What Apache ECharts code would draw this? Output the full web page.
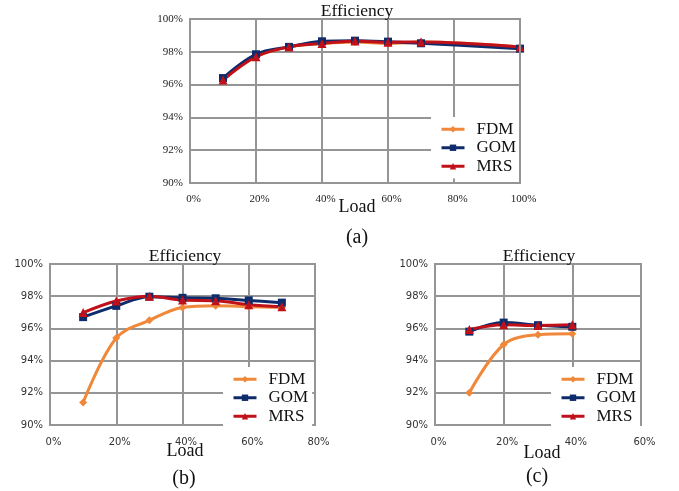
<!DOCTYPE html>
<html><head><meta charset="utf-8">
<script src="https://cdn.jsdelivr.net/npm/echarts@6/dist/echarts.min.js"></script>
<style>html,body{margin:0;padding:0;background:#fff}#c{width:679px;height:491px}</style>
</head><body><div id="c"></div>
<script>
// ---- data ----
const seriesNames = ['FDM', 'GOM', 'MRS'];
const loadA = [10, 20, 30, 40, 50, 60, 70, 100];
const fdmA = [96.3, 97.7, 98.3, 98.5, 98.6, 98.5, 98.6, 98.3];
const gomA = [96.4, 97.85, 98.3, 98.64, 98.68, 98.62, 98.52, 98.19];
const mrsA = [96.28, 97.7, 98.3, 98.5, 98.66, 98.58, 98.6, 98.3];
const loadB = [10, 20, 30, 40, 50, 60, 70];
const fdmB = [91.4, 95.4, 96.5, 97.3, 97.4, 97.35, 97.3];
const gomB = [96.7, 97.4, 97.97, 97.9, 97.87, 97.74, 97.6];
const mrsB = [96.98, 97.7, 98.0, 97.76, 97.72, 97.47, 97.35];
const loadC = [10, 20, 30, 40];
const fdmC = [92.0, 95.0, 95.6, 95.66];
const gomC = [95.8, 96.36, 96.2, 96.1];
const mrsC = [95.93, 96.22, 96.18, 96.22];
const xMaxA = 100, xMaxB = 80, xMaxC = 60;
const yMin = 90, yMax = 100, yStep = 2, xStep = 20;
const panelTitle = 'Efficiency', axisTitle = 'Load';
const panelLabels = ['(a)', '(b)', '(c)'];

// ---- styles ----
const colors = { FDM: '#F0883A', GOM: '#0E2C6B', MRS: '#C0111B' };
const symbols = { FDM: 'diamond', GOM: 'rect', MRS: 'triangle' };
const symSize = { FDM: 8, GOM: 8, MRS: 9 };
const serif = 'Liberation Serif';
const sans = 'DejaVu Sans';
const gridColor = '#959595';

const grids = [
  { left: 190, top: 19, width: 330, height: 164 },
  { left: 50, top: 264, width: 265, height: 161 },
  { left: 435, top: 264, width: 206, height: 161 }
].map(g => Object.assign(g, { show: true, borderColor: gridColor, borderWidth: 2, backgroundColor: '#fff' }));

const xMaxes = [xMaxA, xMaxB, xMaxC];
const labelFonts = [
  { fontFamily: serif, fontSize: 11, color: '#222' },
  { fontFamily: sans, fontSize: 10, color: '#333' },
  { fontFamily: sans, fontSize: 10, color: '#333' }
];

const xAxes = xMaxes.map((mx, i) => ({
  type: 'value', gridIndex: i, min: 0, max: mx, interval: xStep,
  axisLine: { show: false }, axisTick: { show: false },
  splitLine: { show: true, lineStyle: { color: gridColor, width: 2 } },
  axisLabel: Object.assign({ formatter: v => v + '%', margin: i === 0 ? 11 : 12, padding: [0, 0, 0, 7] }, labelFonts[i])
}));
const yAxes = xMaxes.map((mx, i) => ({
  type: 'value', gridIndex: i, min: yMin, max: yMax, interval: yStep,
  axisLine: { show: false }, axisTick: { show: false },
  splitLine: { show: true, lineStyle: { color: gridColor, width: 2 } },
  axisLabel: Object.assign({ formatter: v => v + '%', margin: 7 }, labelFonts[i])
}));
// right-hand frame edges drawn above the legend boxes
xMaxes.forEach((mx, i) => yAxes.push({
  type: 'value', gridIndex: i, position: 'right', min: yMin, max: yMax, interval: yStep, z: 6,
  axisLine: { show: true, lineStyle: { color: gridColor, width: 2 } },
  axisTick: { show: false }, axisLabel: { show: false }, splitLine: { show: false }
}));

function mk(name, xs, ys, gi) {
  return {
    name, type: 'line', xAxisIndex: gi, yAxisIndex: gi,
    data: xs.map((x, k) => [x, ys[k]]),
    smooth: 0.35,
    symbol: symbols[name], symbolSize: symSize[name],
    lineStyle: { color: colors[name], width: 3 },
    itemStyle: { color: colors[name] },
    emphasis: { disabled: true }, animation: false
  };
}
const series = [
  mk('FDM', loadA, fdmA, 0), mk('GOM', loadA, gomA, 0), mk('MRS', loadA, mrsA, 0),
  mk('FDM', loadB, fdmB, 1), mk('GOM', loadB, gomB, 1), mk('MRS', loadB, mrsB, 1),
  mk('FDM', loadC, fdmC, 2), mk('GOM', loadC, gomC, 2), mk('MRS', loadC, mrsC, 2)
];

function legend(left, top) {
  return {
    data: seriesNames, orient: 'vertical', left, top,
    backgroundColor: '#fff', padding: [3, 4, 3, 9],
    itemWidth: 23, itemHeight: 8, itemGap: 0,
    selectedMode: false,
    lineStyle: { width: 3 },
    textStyle: { fontFamily: serif, fontSize: 17, color: '#111', lineHeight: 18.5, padding: [0, 0, 0, 7] }
  };
}

function txt(x, y, s, size) {
  return { type: 'text', x, y, style: { text: s, fontFamily: serif, fontSize: size, fill: '#111', align: 'center', verticalAlign: 'middle' }, z: 10 };
}

const option = {
  backgroundColor: '#fff',
  animation: false,
  grid: grids,
  xAxis: xAxes,
  yAxis: yAxes,
  legend: [legend(431, 117), legend(223, 367), legend(551, 367)],
  series,
  graphic: [
    txt(357, 11, panelTitle, 17.5), txt(185, 256, panelTitle, 17.5), txt(539, 256, panelTitle, 17.5),
    txt(357, 207, axisTitle, 18), txt(185, 451, axisTitle, 18), txt(542, 453, axisTitle, 18),
    txt(357, 238, panelLabels[0], 20), txt(184, 479, panelLabels[1], 20), txt(537, 477, panelLabels[2], 20)
  ]
};
const chart = echarts.init(document.getElementById('c'), null, { renderer: 'canvas' });
chart.setOption(option);
</script></body></html>
